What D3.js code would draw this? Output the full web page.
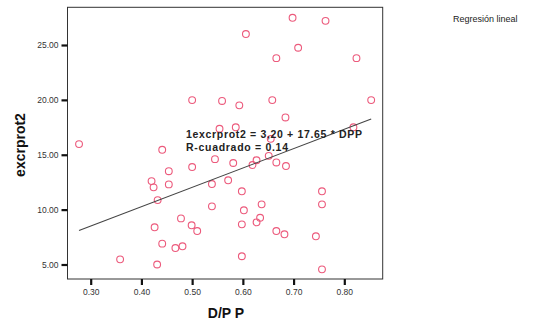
<!DOCTYPE html>
<html><head><meta charset="utf-8">
<script src="https://cdn.jsdelivr.net/npm/d3@7"></script>
<style>body{margin:0;background:#fff}svg{display:block}</style>
</head><body>
<svg id="c" width="538" height="324"></svg>
<script>
const dpp = [0.698,0.763,0.606,0.709,0.666,0.824,0.500,0.559,0.593,0.658,0.853,0.684,0.554,0.586,0.818,0.277,0.441,0.655,
0.651,0.545,0.627,0.666,0.581,0.619,0.685,0.500,0.454,0.420,0.454,0.539,0.571,0.424,0.598,0.756,0.432,0.539,0.637,0.756,
0.602,0.478,0.634,0.627,0.499,0.598,0.426,0.510,0.666,0.682,0.744,0.441,0.481,0.467,0.358,0.598,0.431,0.756];
const excr = [27.48,27.2,26.0,24.75,23.8,23.8,19.98,19.9,19.5,19.98,19.98,18.4,17.37,17.5,17.5,15.97,15.45,16.45,
14.9,14.6,14.5,14.3,14.25,14.06,13.97,13.88,13.5,12.6,12.3,12.33,12.67,12.03,11.67,11.67,10.87,10.3,10.48,10.48,
9.94,9.2,9.26,8.84,8.57,8.66,8.39,8.05,8.05,7.75,7.57,6.9,6.66,6.5,5.47,5.75,5.0,4.56];
const xTicks = [0.30,0.40,0.50,0.60,0.70,0.80];
const yTicks = [5,10,15,20,25];
const intercept = 3.20, slope = 17.65;
const eqLabel = "1excrprot2 = 3,20 + 17.65 * DPP";
const r2Label = "R-cuadrado = 0.14";
const xTitle = "D/P P", yTitle = "excrprot2", legendTitle = "Regresión lineal";

const svg = d3.select("#c");
const L=67.5, R=382.7, T=7.3, B=279;
const x = d3.scaleLinear().domain([0.3,0.8]).range([90.7,344.3]);
const y = d3.scaleLinear().domain([5,25]).range([264.5,45]);
const font = "Liberation Sans, Arial, sans-serif";

svg.append("rect").attr("x",L).attr("y",T).attr("width",R-L).attr("height",B-T)
  .attr("fill","none").attr("stroke","#333").attr("stroke-width",1);

const xa = svg.append("g").attr("transform",`translate(0,${B})`)
  .call(d3.axisBottom(x).tickValues(xTicks).tickFormat(d3.format(".2f")).tickSize(6).tickPadding(4));
const ya = svg.append("g").attr("transform",`translate(${L},0)`)
  .call(d3.axisLeft(y).tickValues(yTicks).tickFormat(d3.format(".2f")).tickSize(6).tickPadding(3));
[xa,ya].forEach(a=>{
  a.select(".domain").remove();
  a.selectAll(".tick line").attr("stroke","#111").attr("stroke-width",2.2);
  a.selectAll(".tick text").attr("font-family",font).attr("font-size",8.5).attr("fill","#333");
});

// points
svg.append("g").selectAll("circle").data(dpp.map((d,i)=>[d,excr[i]])).join("circle")
  .attr("cx",d=>x(d[0])).attr("cy",d=>y(d[1])).attr("r",3.4)
  .attr("fill","none").attr("stroke","#ec5a7c").attr("stroke-width",1.1);

// regression line
const xmin=d3.min(dpp), xmax=d3.max(dpp);
svg.append("line").attr("x1",x(xmin)).attr("y1",y(intercept+slope*xmin))
  .attr("x2",x(xmax)).attr("y2",y(intercept+slope*xmax))
  .attr("stroke","#444").attr("stroke-width",1.1);

svg.append("text").attr("x",186).attr("y",138).text(eqLabel)
  .attr("textLength",176).attr("lengthAdjust","spacing")
  .attr("font-family",font).attr("font-size",10.5).attr("font-weight","bold").attr("fill","#222");
svg.append("text").attr("x",186).attr("y",151).text(r2Label)
  .attr("textLength",102).attr("lengthAdjust","spacing")
  .attr("font-family",font).attr("font-size",10.5).attr("font-weight","bold").attr("fill","#222");

svg.append("text").attr("x",226).attr("y",318).attr("text-anchor","middle").text(xTitle)
  .attr("font-family",font).attr("font-size",14).attr("font-weight","bold").attr("fill","#111");
svg.append("text").attr("transform","translate(25,145) rotate(-90)").attr("text-anchor","middle").text(yTitle)
  .attr("font-family",font).attr("font-size",14).attr("font-weight","bold").attr("fill","#111");
svg.append("text").attr("x",453).attr("y",22).text(legendTitle)
  .attr("font-family",font).attr("font-size",9).attr("fill","#222");
</script>
</body></html>
